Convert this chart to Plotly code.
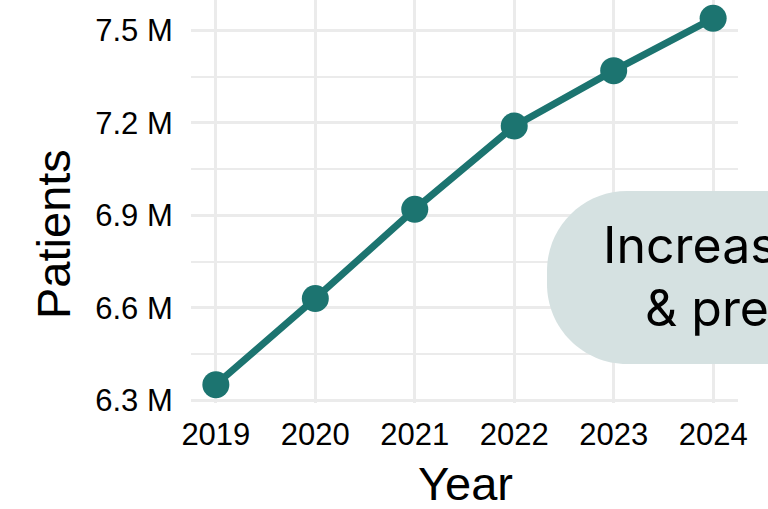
import plotly.graph_objects as go

# ---- data ----
years = [2019, 2020, 2021, 2022, 2023, 2024]
patients_m = [6.35, 6.63, 6.92, 7.19, 7.37, 7.54]
y_tick_vals = [6.3, 6.6, 6.9, 7.2, 7.5]
y_tick_text = ["6.3 M", "6.6 M", "6.9 M", "7.2 M", "7.5 M"]
y_minor_vals = [6.45, 6.75, 7.05, 7.35]
note_line1 = "Increased screening"
note_line2 = "& prevention"

# ---- layout geometry (pixels) ----
W, H = 768, 509
ML, MR, MT, MB = 191, 30, 0, 106
PW, PH = W - ML - MR, H - MT - MB

def px(x):
    return (x - ML) / PW

def py(y):
    return (H - MB - y) / PH

TEAL = "#1c7470"
GRID = "#ebebeb"

fig = go.Figure()
fig.add_trace(go.Scatter(
    x=years, y=patients_m, mode="lines+markers",
    line=dict(color=TEAL, width=7),
    marker=dict(color=TEAL, size=27),
    showlegend=False, hoverinfo="skip",
))

# rounded note box (pill shaped on the left)
x0, y0, x1, y1, r = 547, 191, 960, 364, 80
k = 0.5523 * r
pts = [
    ("M", [(x0 + r, y0)]),
    ("L", [(x1 - r, y0)]),
    ("C", [(x1 - r + k, y0), (x1, y0 + r - k), (x1, y0 + r)]),
    ("L", [(x1, y1 - r)]),
    ("C", [(x1, y1 - r + k), (x1 - r + k, y1), (x1 - r, y1)]),
    ("L", [(x0 + r, y1)]),
    ("C", [(x0 + r - k, y1), (x0, y1 - r + k), (x0, y1 - r)]),
    ("L", [(x0, y0 + r)]),
    ("C", [(x0, y0 + r - k), (x0 + r - k, y0), (x0 + r, y0)]),
]
path = " ".join(cmd + " " + " ".join(f"{px(a):.5f},{py(b):.5f}" for a, b in p) for cmd, p in pts) + " Z"
fig.add_shape(type="path", path=path, xref="paper", yref="paper",
              fillcolor="#d5e1e1", line=dict(width=0), layer="above")

note_font = dict(family="Inter, Roboto, sans-serif", size=50, color="#000000")
fig.add_annotation(text=note_line1, xref="paper", yref="paper",
                   x=px(601), y=py(245), xanchor="left", yanchor="middle",
                   showarrow=False, font=note_font, align="left")
fig.add_annotation(text=note_line2, xref="paper", yref="paper",
                   x=px(643), y=py(308), xanchor="left", yanchor="middle",
                   showarrow=False, font=note_font, align="left")

# axis titles
title_font = dict(family="Liberation Sans, Arial, sans-serif", size=47, color="#000000")
fig.add_annotation(text="Patients", xref="paper", yref="paper",
                   x=px(54), y=py(234), xanchor="center", yanchor="middle",
                   textangle=-90, showarrow=False, font=title_font)
fig.add_annotation(text="Year", xref="paper", yref="paper",
                   x=px(465), y=py(483), xanchor="center", yanchor="middle",
                   showarrow=False, font=title_font)

tick_font = dict(family="Liberation Sans, Arial, sans-serif", size=31, color="#000000")
fig.update_xaxes(
    range=[2018.75, 2024.25], tickvals=years, ticktext=[str(y) for y in years],
    showgrid=True, gridcolor=GRID, gridwidth=3, zeroline=False, showline=False,
    ticks="outside", ticklen=4, tickcolor="rgba(0,0,0,0)", tickfont=tick_font,
)
fig.update_yaxes(
    range=[6.2905, 7.5995], tickvals=y_tick_vals, ticktext=y_tick_text,
    showgrid=True, gridcolor=GRID, gridwidth=3, zeroline=False, showline=False,
    ticks="outside", ticklen=11, tickcolor="rgba(0,0,0,0)", tickfont=tick_font,
    minor=dict(tickvals=y_minor_vals, showgrid=True, gridcolor=GRID, gridwidth=2, ticks=""),
)
fig.update_layout(
    width=W, height=H, autosize=False,
    margin=dict(l=ML, r=MR, t=MT, b=MB, pad=0),
    plot_bgcolor="white", paper_bgcolor="white",
)
fig.write_html("out.html", config={"displayModeBar": False},
               post_script="document.body.style.margin='0';document.body.style.overflow='hidden';")
